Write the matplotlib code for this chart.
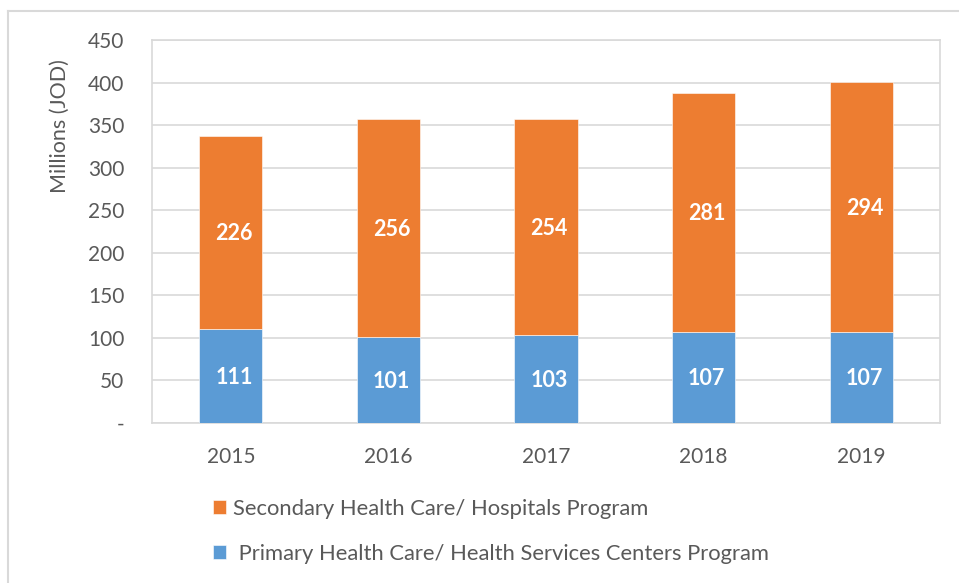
import matplotlib
matplotlib.use("Agg")
import matplotlib.pyplot as plt
from matplotlib.lines import Line2D

years = ["2015", "2016", "2017", "2018", "2019"]
primary = [111, 101, 103, 107, 107]
secondary = [226, 256, 254, 281, 294]
yticks = [0, 50, 100, 150, 200, 250, 300, 350, 400, 450]
ytick_labels = ["-", "50", "100", "150", "200", "250", "300", "350", "400", "450"]
label_secondary = "Secondary Health Care/ Hospitals Program"
label_primary = " Primary Health Care/ Health Services Centers Program"

plt.rcParams['font.family'] = ['Lato', 'DejaVu Sans']
W, H = 959, 583
fig = plt.figure(figsize=(W / 100, H / 100), dpi=100)
ax = fig.add_axes([152 / W, (H - 423) / H, 788 / W, 383 / H])

blue = "#5B9BD5"
orange = "#ED7D31"
grid = "#D9D9D9"
txt = "#595959"

x = list(range(len(years)))
b1 = ax.bar(x, primary, width=0.4, color=blue, edgecolor="white", linewidth=0.4, zorder=3)
b2 = ax.bar(x, secondary, width=0.4, bottom=primary, color=orange, edgecolor="white",
            linewidth=0.4, zorder=3)

for i in x:
    ax.text(i + 0.02, primary[i] / 2 - 1.5, str(primary[i]), ha="center", va="center",
            color="white", fontsize=15.5, fontweight="bold", zorder=4)
    ax.text(i + 0.02, primary[i] + secondary[i] / 2 - 1.5, str(secondary[i]), ha="center",
            va="center", color="white", fontsize=15.5, fontweight="bold", zorder=4)

ax.set_xlim(-0.5, len(years) - 0.5)
ax.set_ylim(0, 450)
ax.set_yticks(yticks)
ax.set_yticklabels(ytick_labels)
ax.set_xticks(x)
ax.set_xticklabels(years)
ax.tick_params(axis="y", length=0, pad=20, labelsize=15, labelcolor=txt)
ax.tick_params(axis="x", length=0, pad=17, labelsize=15, labelcolor=txt)
ax.yaxis.grid(True, color=grid, linewidth=1.2, zorder=0)
ax.set_axisbelow(True)
for s in ax.spines.values():
    s.set_color(grid)
    s.set_linewidth(1.2)

fig.text(60 / W, 1 - 126 / H, "Millions (JOD)", rotation=90, ha="center", va="center",
         fontsize=15.5, color=txt)

# outer chart frame
fig.add_artist(Line2D([8 / W, 8 / W], [0, 1 - 11 / H], color=grid, linewidth=1.5))
fig.add_artist(Line2D([8 / W, 1], [1 - 11 / H, 1 - 11 / H], color=grid, linewidth=1.5))

leg = fig.legend([b2, b1], [label_secondary, label_primary], loc="upper left",
                 bbox_to_anchor=(213 / W, 1 - 499 / H), frameon=False, fontsize=15.8,
                 borderpad=0, borderaxespad=0,
                 handlelength=0.6, handleheight=0.6, handletextpad=0.33,
                 labelspacing=1.13, labelcolor=txt)

fig.savefig("out.png", dpi=100)
